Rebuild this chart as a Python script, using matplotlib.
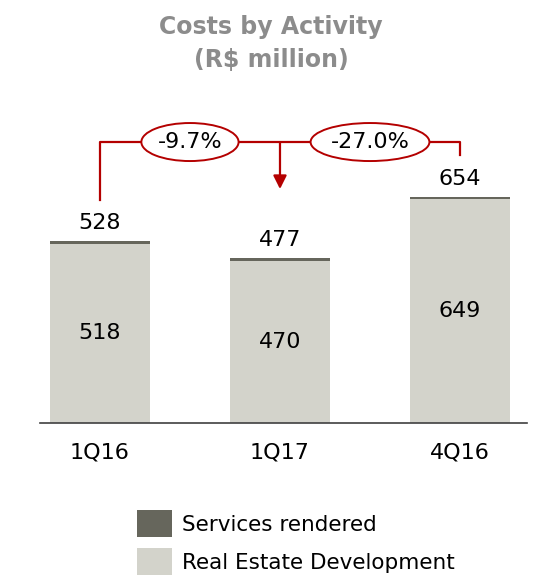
import matplotlib.pyplot as plt
from matplotlib.patches import Ellipse, Patch

periods = ['1Q16', '1Q17', '4Q16']
real_estate = [518, 470, 649]
services = [10, 7, 5]
totals = [528, 477, 654]
changes = [-9.7, -27.0]

RED = '#B40000'
DARK = '#66665C'
LIGHT = '#D3D3CB'

plt.rcParams['font.family'] = ['DejaVu Sans']

fig = plt.figure(figsize=(5.42, 5.77), dpi=100)
ax = fig.add_axes([40 / 542, 154 / 577, 487 / 542, 423 / 577])

x = list(range(len(periods)))
w = 0.56
ax.bar(x, real_estate, width=w, color=LIGHT, zorder=2)
ax.bar(x, services, width=w, bottom=real_estate, color=DARK, zorder=2)

for xi, re, tot in zip(x, real_estate, totals):
    ax.text(xi, re / 2, str(re), ha='center', va='center', fontsize=16, color='black')
    ax.text(xi, tot + 52, str(tot), ha='center', va='center', fontsize=16, color='black')

ax.set_xlim(-0.333, 2.372)
ax.set_ylim(0, 1224)
for s in ['top', 'right', 'left']:
    ax.spines[s].set_visible(False)
ax.spines['bottom'].set_color('#404040')
ax.spines['bottom'].set_linewidth(1.2)
ax.set_yticks([])
ax.set_xticks(x)
ax.set_xticklabels(periods, fontsize=16)
ax.tick_params(axis='x', length=0, pad=14)

# variation bracket
yb = 813
ax.plot([0, 0, 2, 2], [totals[0] + 117, yb, yb, totals[2] + 121], color=RED, lw=1.6, zorder=3)
ax.annotate('', xy=(1, totals[1] + 200), xytext=(1, yb),
            arrowprops=dict(arrowstyle='-|>,head_width=0.4,head_length=0.8',
                            color=RED, lw=1.6, shrinkA=0, shrinkB=0), zorder=3)

for cx, ew, val in [(0.5, 0.54, changes[0]), (1.5, 0.66, changes[1])]:
    ax.add_patch(Ellipse((cx, yb), ew, 110, facecolor='white', edgecolor=RED, lw=1.4, zorder=4))
    ax.text(cx, yb, f'{val:.1f}%', ha='center', va='center', fontsize=16, zorder=5)

fig.text(0.5, 1 - 27 / 577, 'Costs by Activity', ha='center', va='center',
         fontsize=17, fontweight='bold', color='#8C8C8C')
fig.text(0.5, 1 - 60 / 577, '(R$ million)', ha='center', va='center',
         fontsize=17, fontweight='bold', color='#8C8C8C')

handles = [Patch(facecolor=DARK), Patch(facecolor=LIGHT)]
fig.legend(handles, ['Services rendered', 'Real Estate Development'],
           loc='upper left', bbox_to_anchor=(118 / 542, 1 - 491 / 577),
           frameon=False, fontsize=15.5, handlelength=1.6, handleheight=1.5,
           handletextpad=0.45, labelspacing=0.55)

fig.savefig('out.png', dpi=100)
